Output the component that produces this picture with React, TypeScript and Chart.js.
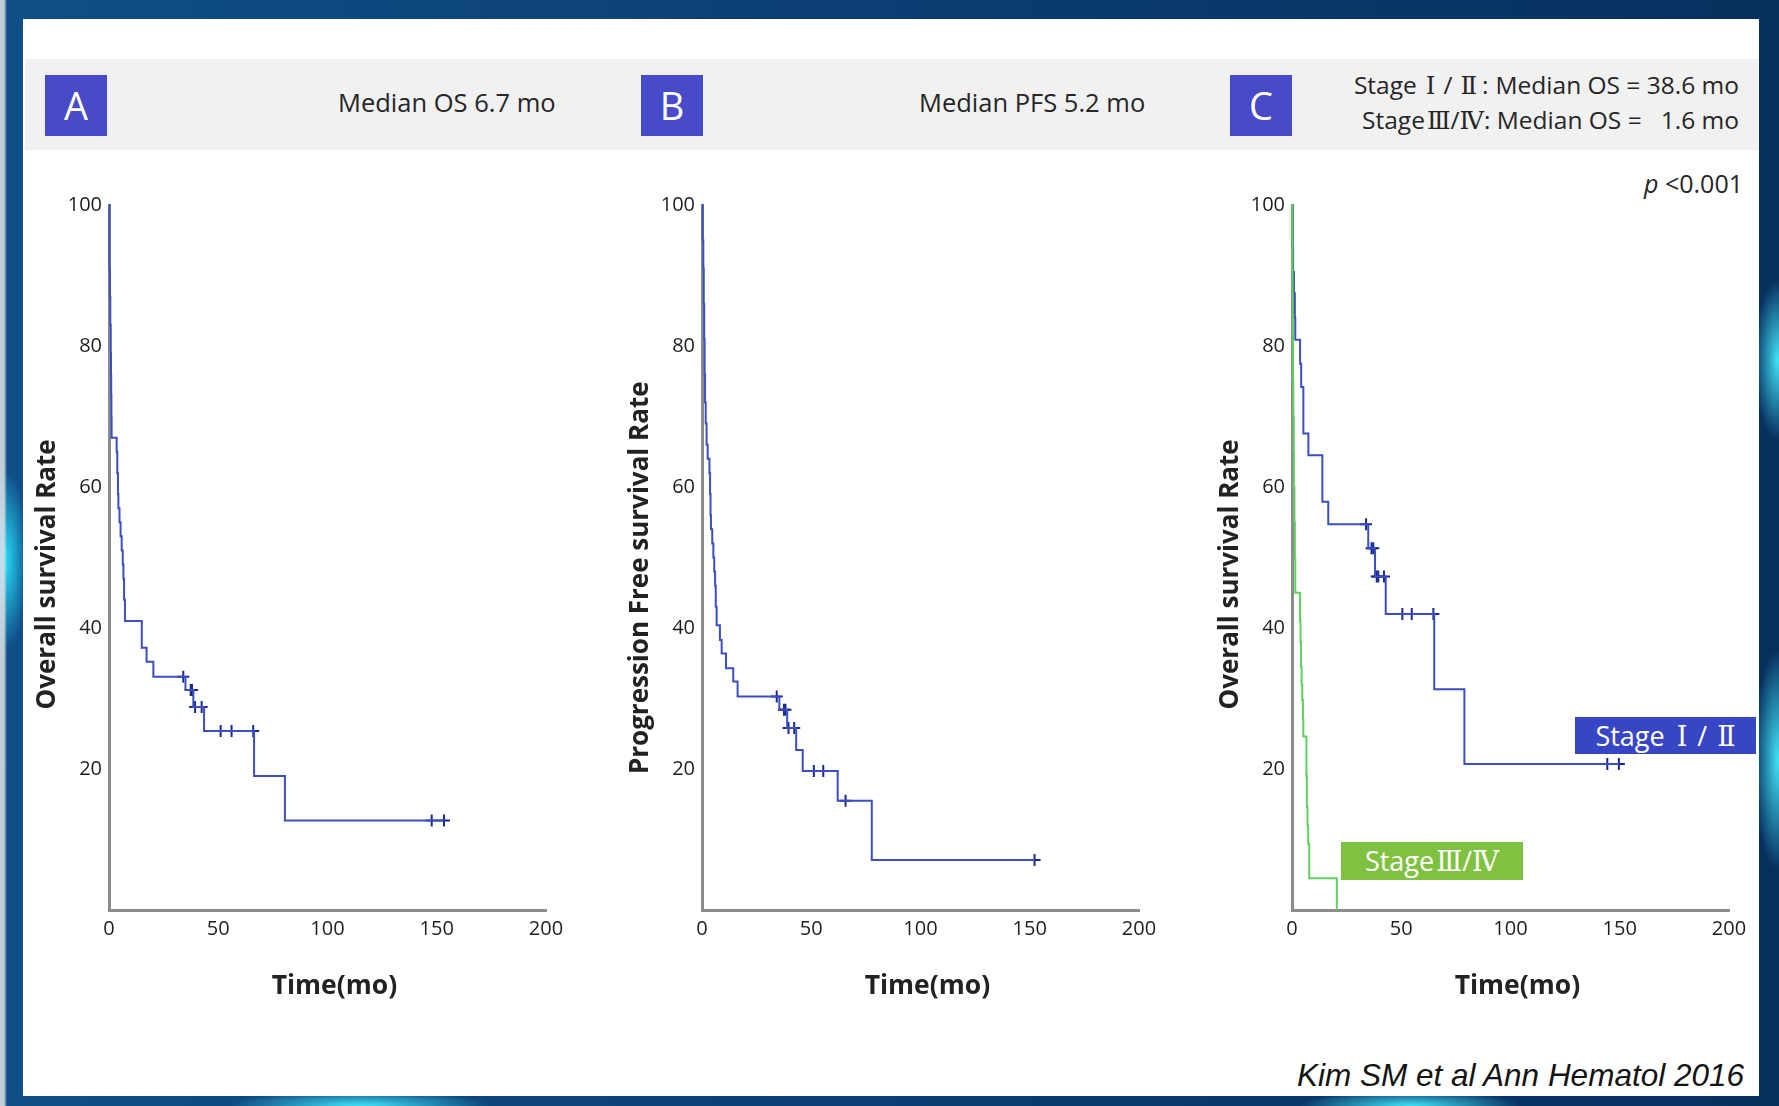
import React, { useEffect, useRef } from "react";
import { Chart, registerables } from "chart.js";

Chart.register(...registerables);

// ---------- DATA ----------
// Panel A: overall survival, all patients
const osTime = [0, 0.2, 0.4, 0.6, 0.8, 0.9, 1.0, 1.1, 1.2, 3.5, 3.8, 4.1, 4.3, 4.8, 5.3, 5.8, 6.3, 6.6, 6.9, 7.3, 15, 17.2, 20.3, 35, 38.6, 43.5, 66.4, 80.5, 153.3];
const osRate = [100, 91, 87, 83, 79, 76, 73, 70, 67, 65, 62, 59, 57, 55, 53, 51, 49, 47, 44, 41, 37.2, 35.2, 33.1, 31.2, 28.8, 25.4, 19.0, 12.7, 12.7];
const osCensorTime = [34, 37.4, 38.0, 39.4, 42.4, 51.1, 56.1, 66.0, 147.7, 153.3];
const osCensorRate = [33.1, 31.2, 31.2, 28.8, 28.8, 25.4, 25.4, 25.4, 12.7, 12.7];

// Panel B: progression-free survival
const pfsTime = [0, 0.3, 0.6, 0.8, 1.0, 1.2, 1.4, 1.7, 2.1, 2.6, 3.4, 3.7, 3.9, 4.1, 4.7, 5.2, 5.6, 6.0, 6.3, 6.7, 8.2, 9.0, 11, 14.3, 16.3, 35.4, 39, 43.1, 46.1, 62.1, 77.7, 152.2];
const pfsRate = [100, 95, 91, 86, 81, 76, 72, 69, 66, 64, 62, 59, 56, 54, 52, 50, 48, 46, 43, 40.4, 38.3, 36.4, 34.3, 32.4, 30.3, 28.4, 25.8, 22.7, 19.7, 15.5, 7.1, 7.1];
const pfsCensorTime = [34.2, 37.5, 38.2, 39.6, 42.2, 51.2, 55.5, 65.7, 152.2];
const pfsCensorRate = [30.3, 28.4, 28.4, 25.8, 25.8, 19.7, 19.7, 15.5, 7.1];

// Panel C: overall survival by stage
const s12Time = [0, 0.2, 0.5, 0.9, 1.3, 1.5, 3.7, 4.2, 5.2, 7.5, 13.9, 16.6, 34.9, 38, 42.9, 65.1, 78.9, 149.6];
const s12Rate = [100, 94, 90.5, 87.5, 84, 80.9, 77.5, 74.2, 67.6, 64.5, 57.9, 54.7, 51.3, 47.3, 42.0, 31.3, 20.7, 20.7];
const s12CensorTime = [33.9, 36.4, 37.2, 38.8, 39.5, 42.1, 50.5, 54.8, 64.7, 144.3, 149.6];
const s12CensorRate = [54.7, 51.3, 51.3, 47.3, 47.3, 47.3, 42.0, 42.0, 42.0, 20.7, 20.7];

const s34Time = [0, 0.1, 0.2, 0.3, 0.4, 0.5, 0.6, 0.8, 0.9, 1.1, 1.3, 1.5, 3.7, 3.9, 4.1, 4.4, 4.7, 5.0, 5.2, 6.6, 6.8, 7.1, 7.4, 7.9, 20.5];
const s34Rate = [100, 95, 90, 85, 80, 75, 70, 65, 60, 55, 50, 45, 41, 38, 34.5, 32, 29.8, 27, 24.6, 19, 14.6, 12, 9.4, 4.5, 0];

// Axes
const xTicks = [0, 50, 100, 150, 200];
const yTicks = [20, 40, 60, 80, 100];

// ---------- LAYOUT / STYLE ----------
const FONT = '"Open Sans", "Noto Sans CJK KR", sans-serif';
const NUM_FONT = '"DejaVu Serif", "Liberation Serif", serif';
const AREA_TOP = 205;
const AREA_BOTTOM = 910;
const AREA_W = 437;
const CANVAS_TOP = 185;
const Y_AXIS_W = 89;
const PAD_RIGHT = 34;
const X_AXIS_H = 105;
const CANVAS_W = Y_AXIS_W + AREA_W + PAD_RIGHT;
const CANVAS_H = AREA_TOP - CANVAS_TOP + (AREA_BOTTOM - AREA_TOP) + X_AXIS_H;

const LINE_BLUE = "#3b4ec2";
const MARK_BLUE = "#1a2a8c";
const LINE_GREEN = "#5fcf5f";

const pts = (xs: number[], ys: number[]) => xs.map((x, i) => ({ x, y: ys[i] }));

type LineSpec = { time: number[]; rate: number[]; color: string };
type MarkSpec = { time: number[]; rate: number[]; color: string };

function KMChart(props: { areaLeft: number; yTitle: string; lines: LineSpec[]; marks: MarkSpec[] }) {
  const ref = useRef<HTMLCanvasElement | null>(null);
  useEffect(() => {
    if (!ref.current) return;
    const datasets: any[] = [];
    props.lines.forEach((l) => {
      datasets.push({
        data: pts(l.time, l.rate),
        borderColor: l.color,
        borderWidth: 2,
        stepped: "before",
        pointRadius: 0,
        fill: false,
        clip: false,
      });
    });
    props.marks.forEach((m) => {
      datasets.push({
        data: pts(m.time, m.rate),
        showLine: false,
        pointStyle: "cross",
        pointRadius: 6,
        pointBorderWidth: 2,
        pointBorderColor: m.color,
        pointBackgroundColor: m.color,
        borderColor: m.color,
        clip: false,
      });
    });
    const tickFont = { family: FONT, size: 20 };
    const titleFont = { family: FONT, size: 26, weight: "bold" as const };
    const chart = new Chart(ref.current, {
      type: "line",
      data: { datasets },
      options: {
        responsive: false,
        animation: false,
        devicePixelRatio: 1,
        events: [],
        layout: { padding: { top: AREA_TOP - CANVAS_TOP, right: PAD_RIGHT, left: 0, bottom: 0 } },
        plugins: { legend: { display: false }, tooltip: { enabled: false } },
        scales: {
          x: {
            type: "linear",
            min: xTicks[0],
            max: xTicks[xTicks.length - 1],
            afterBuildTicks: (s: any) => {
              s.ticks = xTicks.map((v) => ({ value: v }));
            },
            ticks: { padding: 7, color: "#1e1e1e", font: tickFont, maxRotation: 0, autoSkip: false },
            grid: { display: false, drawTicks: false },
            border: { display: true, color: "#8c8c8c", width: 3 },
            title: {
              display: true,
              // leading spaces nudge the centred title slightly right, as in the source figure
              text: "  Time(mo)",
              color: "#222",
              font: { family: FONT, size: 26.5, weight: "bold" },
              padding: { top: 0, bottom: 13 },
            },
            afterFit: (s: any) => {
              s.height = X_AXIS_H;
            },
          },
          y: {
            type: "linear",
            min: 0,
            max: 100,
            afterBuildTicks: (s: any) => {
              s.ticks = yTicks.map((v) => ({ value: v }));
            },
            ticks: { padding: 7, color: "#1e1e1e", font: tickFont, autoSkip: false },
            grid: { display: false, drawTicks: false },
            border: { display: true, color: "#8c8c8c", width: 3 },
            title: {
              display: true,
              text: props.yTitle,
              color: "#222",
              font: titleFont,
              padding: { top: 12, bottom: 0 },
            },
            afterFit: (s: any) => {
              s.width = Y_AXIS_W;
            },
          },
        },
      } as any,
    });
    return () => chart.destroy();
  }, []);
  return (
    <canvas
      ref={ref}
      width={CANVAS_W}
      height={CANVAS_H}
      style={{
        position: "absolute",
        left: props.areaLeft - Y_AXIS_W,
        top: CANVAS_TOP,
        width: CANVAS_W,
        height: CANVAS_H,
      }}
    />
  );
}

function Txt(props: {
  x: number;
  y: number;
  align?: "left" | "right";
  size: number;
  children: React.ReactNode;
  color?: string;
  family?: string;
  italic?: boolean;
  weight?: string | number;
}) {
  const style: React.CSSProperties = {
    position: "absolute",
    top: props.y,
    transform: "translateY(-50%)",
    fontSize: props.size,
    lineHeight: 1,
    fontFamily: props.family || FONT,
    color: props.color || "#262626",
    whiteSpace: "pre",
    fontStyle: props.italic ? "italic" : "normal",
    fontWeight: props.weight || 400,
  };
  if (props.align === "right") style.right = 1779 - props.x;
  else style.left = props.x;
  return <div style={style}>{props.children}</div>;
}

const Num = (props: { children: React.ReactNode }) => (
  <span style={{ fontFamily: NUM_FONT }}>{props.children}</span>
);
const Gap = (props: { w: number }) => <span style={{ display: "inline-block", width: props.w }} />;

function LetterBox(props: { x: number; letter: string }) {
  return (
    <div
      style={{
        position: "absolute",
        left: props.x,
        top: 75,
        width: 62,
        height: 61,
        background: "#484bc8",
        color: "#fff",
        fontFamily: FONT,
        fontSize: 38,
        lineHeight: "61px",
        textAlign: "center",
      }}
    >
      {props.letter}
    </div>
  );
}

const BG = [
  "linear-gradient(90deg, rgba(225,228,232,0.85) 0px, rgba(225,228,232,0.85) 4px, rgba(0,0,0,0) 7px)",
  "radial-gradient(ellipse 22px 90px at 6px 560px, rgba(40,225,255,0.95), rgba(40,225,255,0))",
  "radial-gradient(ellipse 24px 80px at 1778px 360px, rgba(70,235,255,0.95), rgba(70,235,255,0))",
  "radial-gradient(ellipse 24px 110px at 1778px 760px, rgba(70,235,255,0.95), rgba(70,235,255,0))",
  "radial-gradient(ellipse 130px 16px at 360px 1106px, rgba(70,235,255,0.95), rgba(70,235,255,0))",
  "radial-gradient(ellipse 110px 16px at 1410px 1106px, rgba(70,235,255,0.95), rgba(70,235,255,0))",
  "linear-gradient(90deg, #104f88 0%, #0b3f74 45%, #07305e 100%)",
].join(", ");

export default function App() {
  return (
    <div
      style={{
        position: "absolute",
        left: 0,
        top: 0,
        width: 1779,
        height: 1106,
        overflow: "hidden",
        background: BG,
      }}
    >
      <div style={{ position: "absolute", left: 23, top: 19, width: 1736, height: 1077, background: "#ffffff" }} />
      <div style={{ position: "absolute", left: 25, top: 59, width: 1734, height: 91, background: "#f1f1f1" }} />

      <LetterBox x={45} letter="A" />
      <LetterBox x={641} letter="B" />
      <LetterBox x={1230} letter="C" />

      <Txt x={338} y={103} size={25.5}>Median OS 6.7 mo</Txt>
      <Txt x={919} y={103} size={25.5}>Median PFS 5.2 mo</Txt>
      <Txt x={1739} y={86} size={24.5} align="right">
        Stage<Gap w={9} /><Num>Ⅰ</Num><Gap w={8} />/<Gap w={8} /><Num>Ⅱ</Num><Gap w={5} />:<Gap w={7} />Median OS = 38.6 mo
      </Txt>
      <Txt x={1739} y={121} size={24.5} align="right">
        Stage<Gap w={2} /><Num>Ⅲ</Num>/<Num>Ⅳ</Num>: Median OS =   1.6 mo
      </Txt>
      <Txt x={1743} y={183} size={25} align="right">
        <span style={{ fontStyle: "italic" }}>p</span> &lt;0.001
      </Txt>

      <KMChart
        areaLeft={109}
        yTitle="Overall survival Rate     "
        lines={[{ time: osTime, rate: osRate, color: LINE_BLUE }]}
        marks={[{ time: osCensorTime, rate: osCensorRate, color: MARK_BLUE }]}
      />
      <KMChart
        areaLeft={702}
        yTitle="Progression Free survival Rate      "
        lines={[{ time: pfsTime, rate: pfsRate, color: LINE_BLUE }]}
        marks={[{ time: pfsCensorTime, rate: pfsCensorRate, color: MARK_BLUE }]}
      />
      <KMChart
        areaLeft={1292}
        yTitle="Overall survival Rate     "
        lines={[
          { time: s34Time, rate: s34Rate, color: LINE_GREEN },
          { time: s12Time, rate: s12Rate, color: LINE_BLUE },
        ]}
        marks={[{ time: s12CensorTime, rate: s12CensorRate, color: MARK_BLUE }]}
      />

      <div
        style={{
          position: "absolute",
          left: 1575,
          top: 717,
          width: 181,
          height: 37,
          background: "#3646c4",
          color: "#fff",
          fontFamily: FONT,
          fontSize: 27,
          lineHeight: "37px",
          textAlign: "center",
          whiteSpace: "pre",
        }}
      >
        Stage<Gap w={12} /><Num>Ⅰ</Num><Gap w={10} />/<Gap w={10} /><Num>Ⅱ</Num>
      </div>
      <div
        style={{
          position: "absolute",
          left: 1341,
          top: 842,
          width: 182,
          height: 38,
          background: "#7fc241",
          color: "#fff",
          fontFamily: FONT,
          fontSize: 27,
          lineHeight: "38px",
          textAlign: "center",
          whiteSpace: "pre",
        }}
      >
        Stage<Gap w={2} /><Num>Ⅲ</Num>/<Num>Ⅳ</Num>
      </div>

      <Txt x={1744} y={1076} size={31.5} align="right" italic family='"Liberation Sans", Arial, sans-serif' color="#141414">
        Kim SM et al Ann Hematol 2016
      </Txt>
    </div>
  );
}
